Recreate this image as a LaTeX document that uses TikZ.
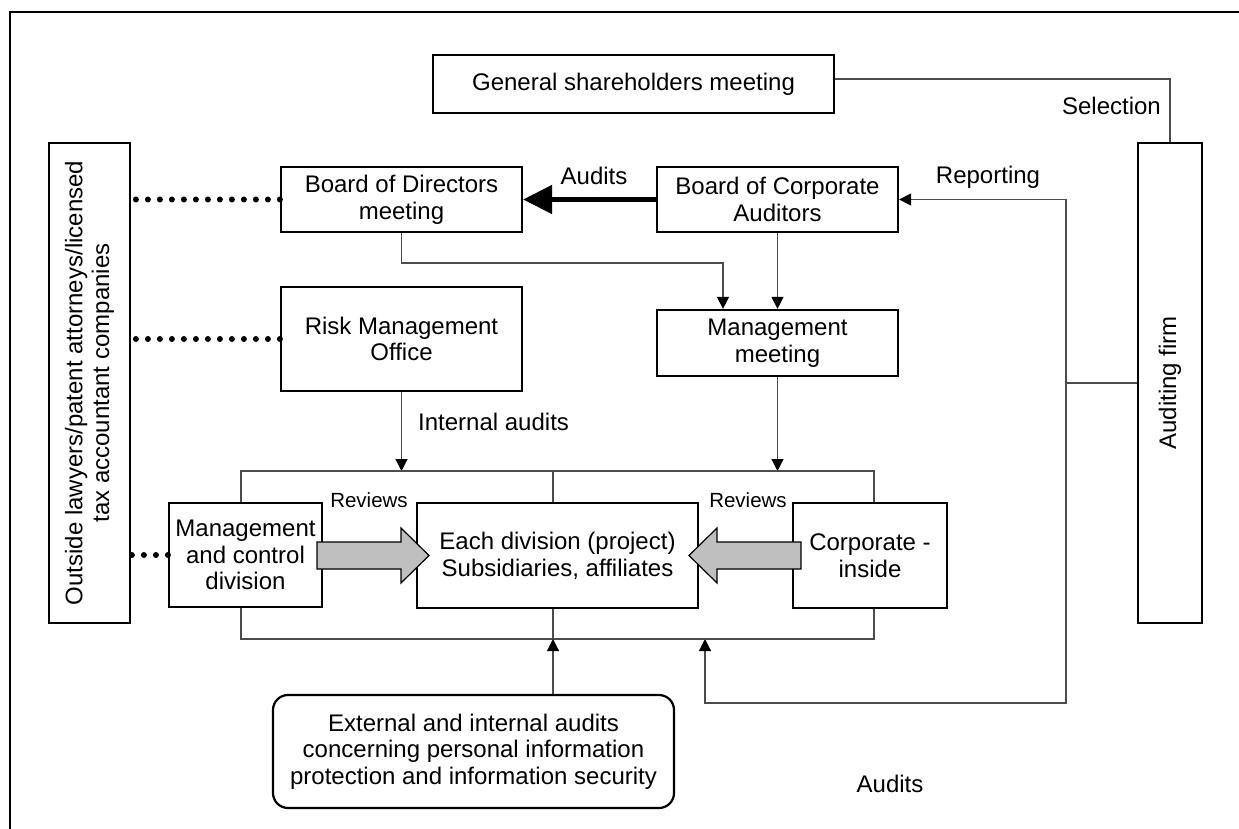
\documentclass[tikz,border=0pt]{standalone}
\usepackage{fontspec}
\setmainfont{Liberation Sans}
\usetikzlibrary{arrows.meta,calc,positioning}

\begin{document}
\begin{tikzpicture}[x=1pt,y=-1pt,
  box/.style={draw,line width=2.2pt,align=center,inner sep=0pt,font=\fontsize{24}{26.7}\selectfont},
  link/.style={draw=black!70,line width=1.1pt},
  tip/.style={-{Triangle[length=12pt,width=12pt,color=black]}},
  dots/.style={line width=6pt,line cap=round,dash pattern=on 0pt off 12pt},
  lbl/.style={font=\fontsize{24}{26.7}\selectfont,inner sep=0pt},
  review/.style={font=\fontsize{20.5}{24}\selectfont,inner sep=0pt},
  greyarrow/.style={draw,line width=1.2pt,fill=black!25}]
  \useasboundingbox (0,0) rectangle (1239,829);
  \draw[line width=2pt] (10,829) -- (10,12) -- (1239,12);

  % boxes
  \node[box,minimum width=401,minimum height=58] (gsm) at (633.5,84) {General shareholders meeting};
  \node[box,minimum width=241,minimum height=65] (bod) at (401.5,199.5) {Board of Directors\\meeting};
  \node[box,minimum width=241,minimum height=65] (bca) at (777.5,199.5) {Board of Corporate\\Auditors};
  \node[box,minimum width=241,minimum height=104] (rmo) at (401.5,339) {Risk Management\\Office};
  \node[box,minimum width=241,minimum height=66] (mgm) at (777.5,343) {Management\\meeting};
  \node[box,minimum width=153,minimum height=104] (mcd) at (245.5,555) {Management\\and control\\division};
  \node[box,minimum width=281,minimum height=105] (div) at (557.5,555.5) {Each division (project)\\Subsidiaries, affiliates};
  \node[box,minimum width=154,minimum height=105] (cin) at (870,555.5) {Corporate -\\inside};
  \node[box,rounded corners=15pt,minimum width=401,minimum height=113] (ext) at (473.5,751.5)
    {External and internal audits\\concerning personal information\\protection and information security};
  \node[box,rotate=90,minimum width=480,minimum height=81] (law) at (89.5,383)
    {Outside lawyers/patent attorneys/licensed\\tax accountant companies};
  \node[box,rotate=90,minimum width=480,minimum height=64] (aud) at (1170,383) {Auditing firm};

  % helper points
  \coordinate (jn) at (1066,383);
  \coordinate (ret) at (705,703);
  \coordinate (bend) at (723,263);
  \coordinate (tl) at (241,471);
  \coordinate (tm) at (553,471);
  \coordinate (tr) at (874,471);
  \coordinate (bl) at (241,639);
  \coordinate (bm) at (553,639);
  \coordinate (br) at (874,639);

  % connectors
  \draw[link] ([yshift=5pt]gsm.east) -| (aud.east);
  \node[lbl,anchor=east] (sel) at (1161,106) {Selection};
  \draw[line width=5pt,-{Triangle[length=29pt,width=28pt]}] (bca.west) -- (bod.east);
  \node[lbl] (audtop) at (594,176) {Audits};
  \draw[link] (aud.north) -- (jn);
  \draw[link,tip] (jn) |- (bca.east);
  \node[lbl] (rep) at (988,177) {Reporting};
  \draw[link,tip] (jn) |- (ret) -- (ret |- bm);
  \node[lbl] (audbot) at (890,784) {Audits};
  \draw[link,tip] (bod.south) |- (bend) -- (bend |- mgm.north);
  \draw[link,tip] (bca.south) -- (mgm.north);
  \draw[link,tip] (rmo.south) -- (rmo.south |- tl);
  \node[lbl,anchor=west] (ia) at (418,422) {Internal audits};
  \draw[link,tip] (mgm.south) -- (mgm.south |- tr);
  \draw[link] (tl |- mcd.north) -- (tl) -- (tr) -- (tr |- cin.north);
  \draw[link] (tm) -- (tm |- div.north);
  \draw[link] (bl |- mcd.south) -- (bl) -- (br) -- (br |- cin.south);
  \draw[link] (bm |- div.south) -- (bm);
  \draw[link,tip] (ext.north -| bm) -- (bm);

  % dotted ties to outside experts
  \draw[dots] (bod.west) -- (bod.west -| law.south);
  \draw[dots] (rmo.west) -- (rmo.west -| law.south);
  \draw[dots] (mcd.west) -- (mcd.west -| law.south);

  % review arrows
  \draw[greyarrow] (317,542) -- (401,542) -- (401,528) -- (429,555.5) -- (401,583) -- (401,569) -- (317,569) -- cycle;
  \draw[greyarrow] (801,542) -- (717,542) -- (717,528) -- (689,555.5) -- (717,583) -- (717,569) -- (801,569) -- cycle;
  \node[review] (rv1) at (369,500) {Reviews};
  \node[review] (rv2) at (748,500) {Reviews};
\end{tikzpicture}
\end{document}
